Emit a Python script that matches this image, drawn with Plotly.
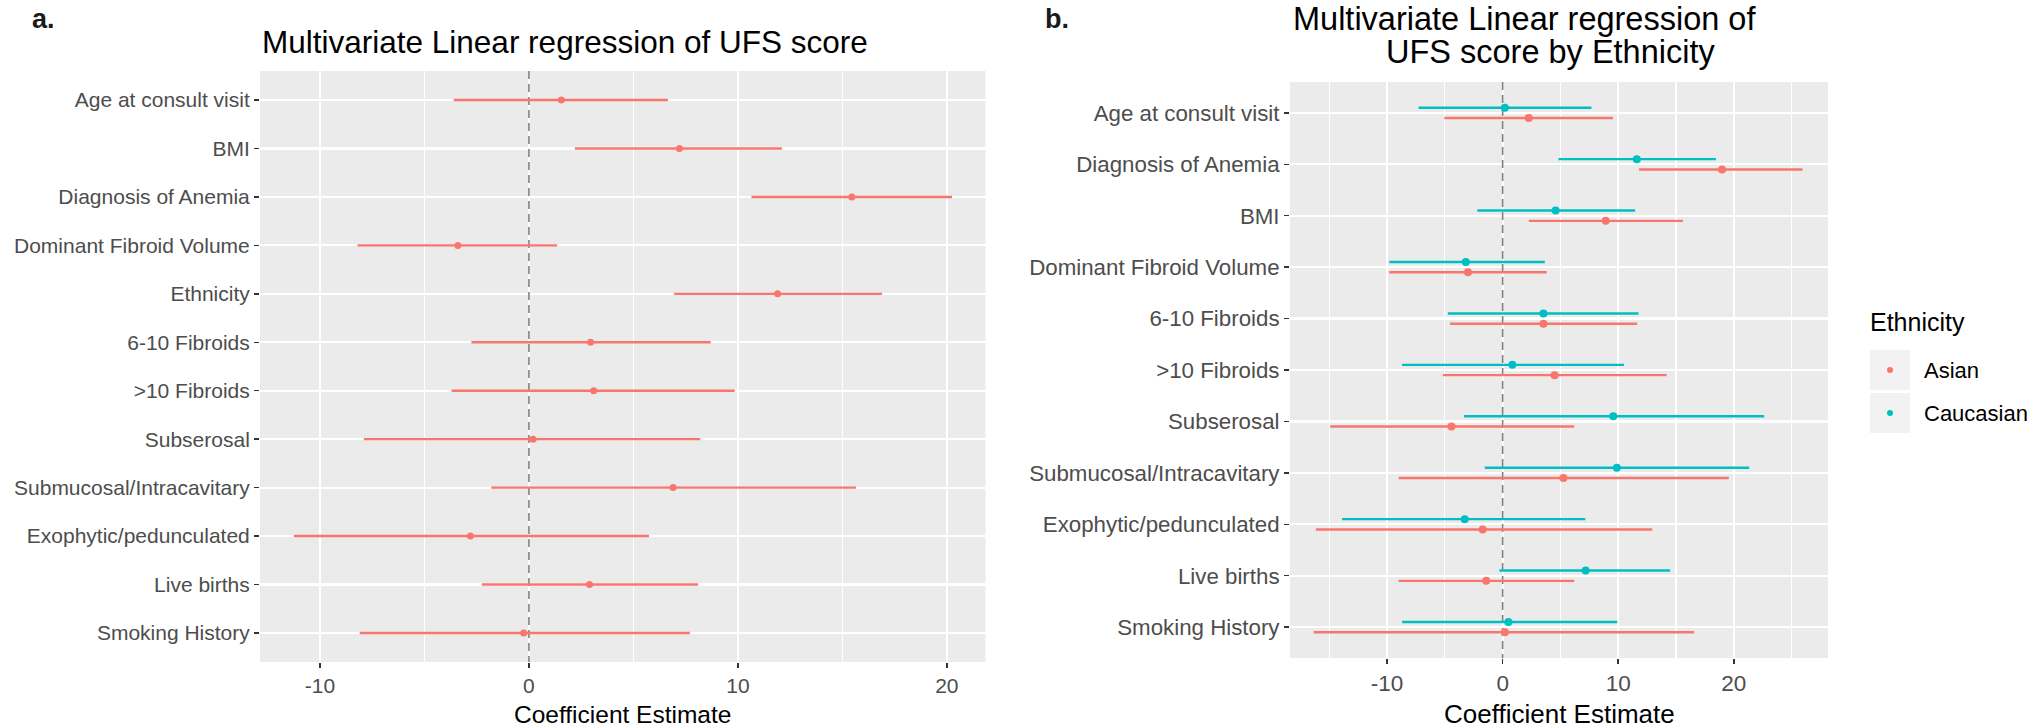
import plotly.graph_objects as go

W, H = 2034, 728

# ---------------- data ----------------
labels_a = ["Age at consult visit", "BMI", "Diagnosis of Anemia", "Dominant Fibroid Volume",
            "Ethnicity", "6-10 Fibroids", ">10 Fibroids", "Subserosal",
            "Submucosal/Intracavitary", "Exophytic/pedunculated", "Live births", "Smoking History"]
est_a = [1.55, 7.2, 15.45, -3.4, 11.9, 2.95, 3.1, 0.2, 6.9, -2.8, 2.9, -0.25]
low_a = [-3.6, 2.2, 10.65, -8.2, 6.95, -2.75, -3.7, -7.9, -1.8, -11.25, -2.25, -8.1]
high_a = [6.65, 12.1, 20.25, 1.35, 16.9, 8.7, 9.85, 8.2, 15.65, 5.75, 8.1, 7.7]

labels_b = ["Age at consult visit", "Diagnosis of Anemia", "BMI", "Dominant Fibroid Volume",
            "6-10 Fibroids", ">10 Fibroids", "Subserosal", "Submucosal/Intracavitary",
            "Exophytic/pedunculated", "Live births", "Smoking History"]
asian_est = [2.26, 18.98, 8.92, -3.0, 3.53, 4.49, -4.43, 5.26, -1.73, -1.42, 0.19]
asian_low = [-5.05, 11.8, 2.26, -9.81, -4.55, -5.17, -14.92, -9.0, -16.16, -9.0, -16.35]
asian_high = [9.54, 25.94, 15.6, 3.81, 11.64, 14.18, 6.19, 19.57, 12.94, 6.19, 16.56]
cau_est = [0.19, 11.61, 4.58, -3.19, 3.53, 0.84, 9.57, 9.88, -3.28, 7.18, 0.5]
cau_low = [-7.28, 4.83, -2.2, -9.81, -4.74, -8.7, -3.34, -1.55, -13.9, -0.28, -8.7]
cau_high = [7.68, 18.45, 11.46, 3.65, 11.76, 10.5, 22.63, 21.33, 7.15, 14.49, 9.91]

x_ticks = [-10, 0, 10, 20]
groups = ["Asian", "Caucasian"]
colors = {"Asian": "#F8766D", "Caucasian": "#00BFC4"}

# ---------------- helpers ----------------
def px(x):
    return x / W

def py(y):
    return 1 - y / H

FONT = "Liberation Sans, Arial, sans-serif"
fig = go.Figure()

def add_ci(est, low, high, ypos, color, xa, ya, msize):
    fig.add_trace(go.Scatter(
        x=est, y=ypos, mode="markers", xaxis=xa, yaxis=ya, showlegend=False,
        marker=dict(color=color, size=msize, line=dict(width=0)),
        error_x=dict(type="data", symmetric=False,
                     array=[h - e for h, e in zip(high, est)],
                     arrayminus=[e - l for e, l in zip(est, low)],
                     color=color, thickness=2.4, width=0),
        hoverinfo="skip"))

na, nb = len(labels_a), len(labels_b)
ra = [-0.6, na - 1 + 0.6]
rb = [-0.6, nb - 1 + 0.6]

# dashed zero lines
fig.add_trace(go.Scatter(x=[0, 0], y=ra, mode="lines", xaxis="x", yaxis="y", showlegend=False,
                         line=dict(color="#808080", width=1.6, dash="8px,5px"), hoverinfo="skip"))
fig.add_trace(go.Scatter(x=[0, 0], y=rb, mode="lines", xaxis="x2", yaxis="y2", showlegend=False,
                         line=dict(color="#808080", width=1.6, dash="8px,5px"), hoverinfo="skip"))

# panel a
add_ci(est_a, low_a, high_a, list(range(na)), colors["Asian"], "x", "y", 7)

# panel b (dodged)
dodge = 0.1
add_ci(asian_est, asian_low, asian_high, [i + dodge for i in range(nb)], colors["Asian"], "x2", "y2", 8)
add_ci(cau_est, cau_low, cau_high, [i - dodge for i in range(nb)], colors["Caucasian"], "x2", "y2", 8)

axis_common = dict(showline=False, zeroline=False, showgrid=True, gridcolor="white",
                   ticks="outside", ticklen=5, tickwidth=1.5, tickcolor="#333333")

fig.update_layout(
    width=W, height=H, autosize=False,
    margin=dict(l=0, r=0, t=0, b=0),
    paper_bgcolor="white", plot_bgcolor="#EBEBEB",
    font=dict(family=FONT, color="#000000"),
    hovermode=False,
    xaxis=dict(domain=[px(260), px(985.5)], range=[-12.87, 21.85], anchor="y",
               tickvals=x_ticks, ticktext=[str(t) for t in x_ticks],
               gridwidth=2.2, tickfont=dict(size=21, color="#4D4D4D"),
               minor=dict(tickvals=[-5, 5, 15], showgrid=True, gridcolor="white",
                          gridwidth=1.1, ticks=""),
               **axis_common),
    yaxis=dict(domain=[py(662), py(71)], range=[ra[1], ra[0]], anchor="x",
               tickvals=list(range(na)), ticktext=labels_a, gridwidth=2.2,
               tickfont=dict(size=21, color="#4D4D4D"), **axis_common),
    xaxis2=dict(domain=[px(1290), px(1828)], range=[-18.4, 28.15], anchor="y2",
                tickvals=x_ticks, ticktext=[str(t) for t in x_ticks],
                gridwidth=2.2, tickfont=dict(size=22.5, color="#4D4D4D"),
                minor=dict(tickvals=[-15, -5, 5, 15, 25], showgrid=True, gridcolor="white",
                           gridwidth=1.1, ticks=""),
                **axis_common),
    yaxis2=dict(domain=[py(658), py(82)], range=[rb[1], rb[0]], anchor="x2",
                tickvals=list(range(nb)), ticktext=labels_b, gridwidth=2.2,
                tickfont=dict(size=22.3, color="#4D4D4D"), **axis_common),
)

annotations = []
def text(x, y, s, size, xanchor="left", bold=False, color="#000000"):
    annotations.append(dict(x=px(x), y=py(y), xref="paper", yref="paper", text=(f"<b>{s}</b>" if bold else s),
                            showarrow=False, xanchor=xanchor, yanchor="middle",
                            font=dict(size=size, color=color, family=FONT)))

# panel labels
text(30, 19, "a.", 27, bold=True, color="#1A1A1A")
text(1043, 19, "b.", 27, bold=True, color="#1A1A1A")
# titles
text(260, 42, "Multivariate Linear regression of UFS score", 31.5)
text(1291, 18.5, "Multivariate Linear regression of", 32.5)
text(1384, 52.5, "UFS score by Ethnicity", 32.5)
# axis titles
text((260 + 985.5) / 2, 714, "Coefficient Estimate", 24.5, xanchor="center")
text((1290 + 1828) / 2, 714, "Coefficient Estimate", 26, xanchor="center")
# legend
text(1868, 322, "Ethnicity", 25)
text(1922, 370, groups[0], 22)
text(1922, 413, groups[1], 22)
fig.update_layout(annotations=annotations)

shapes = []
for (y0, y1), g in zip([(350, 390), (393, 433)], groups):
    shapes.append(dict(type="rect", xref="paper", yref="paper", x0=px(1870), x1=px(1910),
                       y0=py(y1), y1=py(y0), fillcolor="#F2F2F2", line=dict(width=0), layer="below"))
    cy = (y0 + y1) / 2
    shapes.append(dict(type="circle", xref="paper", yref="paper", x0=px(1887), x1=px(1893),
                       y0=py(cy + 3), y1=py(cy - 3), fillcolor=colors[g], line=dict(width=0)))
fig.update_layout(shapes=shapes)

# remove the browser's default 8px body margin so the figure fills the window exactly
fig.write_html("out.html",
               config={"displayModeBar": False, "staticPlot": True},
               post_script="document.body.style.margin='0';document.body.style.overflow='hidden';")
